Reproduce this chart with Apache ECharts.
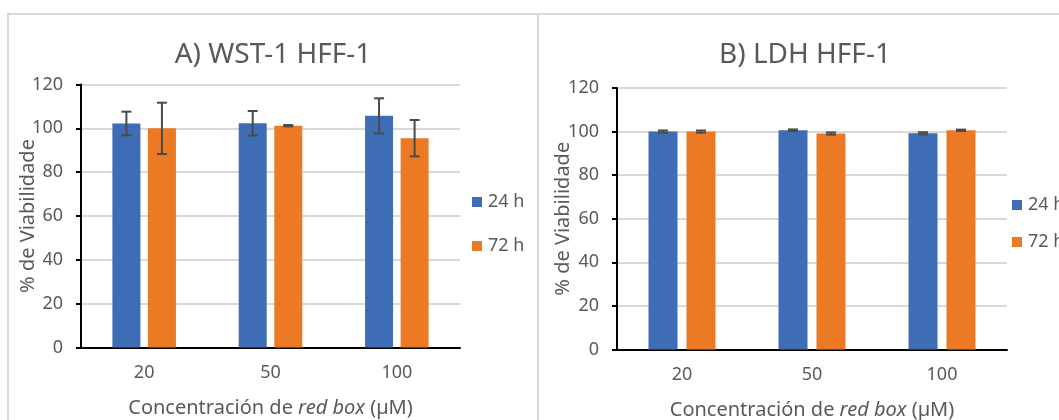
<!DOCTYPE html>
<html>
<head>
<meta charset="utf-8">
<title>Viabilidad HFF-1</title>
<script src="https://cdn.jsdelivr.net/npm/echarts@6/dist/echarts.min.js"></script>
<style>
  html, body { margin: 0; padding: 0; background: #fff; }
  #chart { width: 1059px; height: 420px; }
</style>
</head>
<body>
<div id="chart"></div>
<script>
// Concentrations of red box (µM)
const categories = ['20', '50', '100'];

// A) WST-1 assay, mean viability (%) and standard deviation
const wst24 = [102.2, 102.3, 105.7];
const wst24Err = [5.4, 5.6, 8.0];
const wst72 = [100.0, 101.2, 95.5];
const wst72Err = [11.7, 0.3, 8.3];

// B) LDH assay, mean viability (%) and standard deviation
const ldh24 = [100.0, 100.6, 99.2];
const ldh24Err = [0.5, 0.4, 0.5];
const ldh72 = [100.0, 99.1, 100.6];
const ldh72Err = [0.5, 0.5, 0.3];

const seriesNames = ['24 h', '72 h'];
const panelTitles = ['A) WST-1 HFF-1', 'B) LDH HFF-1'];
const yAxisTitle = '% de Viabilidade';
const xAxisTitle = 'Concentración de {i|red box} (µM)';

const BLUE = '#3e6db5';
const ORANGE = '#ec7a25';
const TEXT = '#595959';
const GRID = '#d9d9d9';
const FONT = '"Noto Sans", "Open Sans", sans-serif';

const chart = echarts.init(document.getElementById('chart'), null, { renderer: 'canvas' });

// Error bar: vertical whisker with caps, shifted onto its bar
function errorBars(offset) {
  return function (params, api) {
    const i = api.value(0), m = api.value(1), e = api.value(2);
    const top = api.coord([i, m + e]);
    const bot = api.coord([i, m - e]);
    const x = top[0] + offset;
    const hw = 5;
    const style = { stroke: '#4a4a4a', lineWidth: 2 };
    return {
      type: 'group',
      children: [
        { type: 'line', shape: { x1: x, y1: top[1], x2: x, y2: bot[1] }, style },
        { type: 'line', shape: { x1: x - hw, y1: top[1], x2: x + hw, y2: top[1] }, style },
        { type: 'line', shape: { x1: x - hw, y1: bot[1], x2: x + hw, y2: bot[1] }, style }
      ]
    };
  };
}

function errData(means, errs) {
  return categories.map((c, i) => [i, means[i], errs[i]]);
}

const panels = [
  { grid: { left: 81, top: 84.5, width: 379, height: 263 }, barWidth: 28, gap: 0.27,
    s24: wst24, e24: wst24Err, s72: wst72, e72: wst72Err, yNameGap: 43,
    title: { left: 273, top: 41 }, legend: { left: 472, top: 193, itemGap: 26 } },
  { grid: { left: 617, top: 88, width: 390, height: 261.5 }, barWidth: 29, gap: 0.31,
    s24: ldh24, e24: ldh24Err, s72: ldh72, e72: ldh72Err, yNameGap: 44,
    title: { left: 805, top: 41 }, legend: { left: 1012, top: 196, itemGap: 19 } }
];

const option = {
  animation: false,
  backgroundColor: '#fff',
  textStyle: { fontFamily: FONT },
  title: panels.map((p, k) => ({
    text: panelTitles[k],
    left: p.title.left, top: p.title.top, textAlign: 'center', padding: 0,
    textStyle: { fontFamily: FONT, fontSize: 28, fontWeight: 'normal', color: TEXT }
  })),
  legend: panels.map(p => ({
    data: seriesNames,
    orient: 'vertical',
    left: p.legend.left, top: p.legend.top, itemGap: p.legend.itemGap,
    itemWidth: 10, itemHeight: 10, icon: 'rect', padding: 0,
    textStyle: { fontFamily: FONT, fontSize: 18, color: TEXT, padding: [0, 0, 0, 1] }
  })),
  grid: panels.map(p => Object.assign({ containLabel: false, outerBoundsMode: 'none' }, p.grid)),
  xAxis: panels.map((p, k) => ({
    type: 'category', gridIndex: k, data: categories,
    axisLine: { lineStyle: { color: '#000', width: 2 } },
    axisTick: { show: false },
    axisLabel: { fontFamily: FONT, fontSize: 18, color: TEXT, margin: 16 },
    name: xAxisTitle, nameLocation: 'middle', nameGap: 51, nameMoveOverlap: false,
    nameTextStyle: { fontFamily: FONT, fontSize: 20, color: TEXT,
      rich: { i: { fontFamily: FONT, fontSize: 20, color: TEXT, fontStyle: 'italic' } } }
  })),
  yAxis: panels.map((p, k) => ({
    type: 'value', gridIndex: k, min: 0, max: 120, interval: 20,
    axisLine: { show: true, lineStyle: { color: '#000', width: 2 } },
    axisTick: { show: true, length: 5, lineStyle: { color: '#000', width: 2 } },
    axisLabel: { fontFamily: FONT, fontSize: 18, color: TEXT, margin: 18 },
    splitLine: { lineStyle: { color: GRID, width: 2 } },
    name: yAxisTitle, nameLocation: 'middle', nameGap: p.yNameGap, nameMoveOverlap: false,
    nameTextStyle: { fontFamily: FONT, fontSize: 20, color: TEXT }
  })),
  graphic: [
    { type: 'rect', silent: true, z: -1, shape: { x: 8, y: 14, width: 530, height: 430 },
      style: { fill: 'none', stroke: GRID, lineWidth: 2 } },
    { type: 'rect', silent: true, z: -1, shape: { x: 538, y: 14, width: 540, height: 430 },
      style: { fill: 'none', stroke: GRID, lineWidth: 2 } }
  ],
  series: []
};

panels.forEach((p, k) => {
  const off = p.barWidth * (1 + p.gap) / 2;
  option.series.push(
    { name: seriesNames[0], type: 'bar', xAxisIndex: k, yAxisIndex: k, data: p.s24,
      barWidth: p.barWidth, barGap: (p.gap * 100) + '%', itemStyle: { color: BLUE } },
    { name: seriesNames[1], type: 'bar', xAxisIndex: k, yAxisIndex: k, data: p.s72,
      barWidth: p.barWidth, barGap: (p.gap * 100) + '%', itemStyle: { color: ORANGE } },
    { name: seriesNames[0], type: 'custom', xAxisIndex: k, yAxisIndex: k, z: 5,
      renderItem: errorBars(-off), encode: { x: 0, y: 1 }, data: errData(p.s24, p.e24) },
    { name: seriesNames[1], type: 'custom', xAxisIndex: k, yAxisIndex: k, z: 5,
      renderItem: errorBars(off), encode: { x: 0, y: 1 }, data: errData(p.s72, p.e72) }
  );
});

chart.setOption(option);
</script>
</body>
</html>
